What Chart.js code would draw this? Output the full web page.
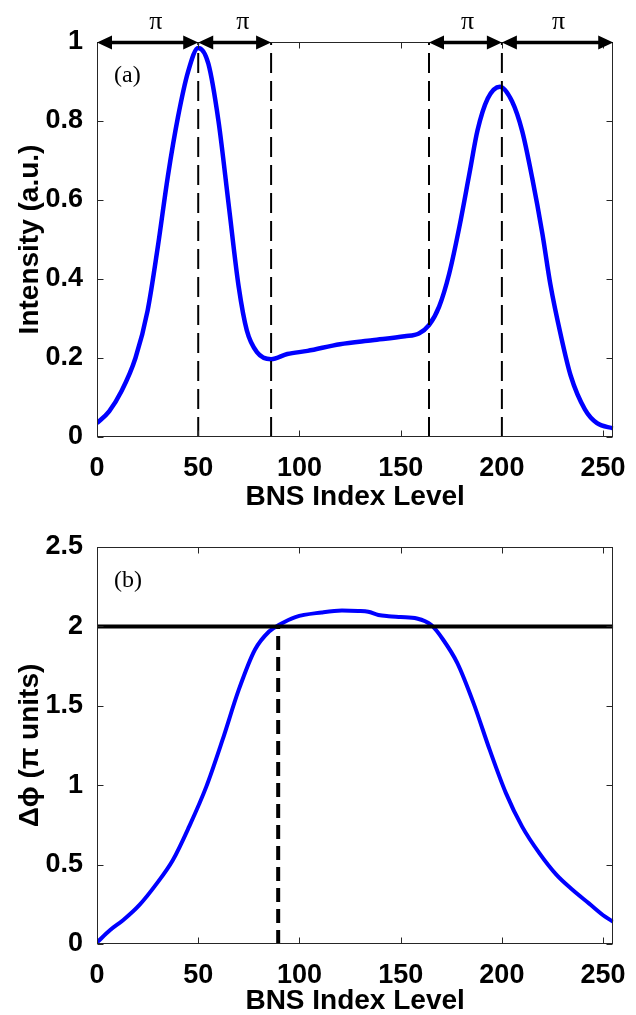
<!DOCTYPE html>
<html lang="en">
<head>
<meta charset="UTF-8" />
<title>BNS Index Level</title>
<script src="https://cdn.jsdelivr.net/npm/chart.js"></script>
<style>
  body { margin: 0; background: #fff; }
  .wrap { position: relative; width: 636px; height: 1015px; overflow: hidden; }
  canvas { position: absolute; left: 0; }
  #chartIntensity { top: 0; }
  #chartPhase { top: 495px; }
</style>
</head>
<body>
<div class="wrap">
  <canvas id="chartIntensity" width="636" height="520"></canvas>
  <canvas id="chartPhase" width="636" height="520"></canvas>
</div>
<script>
  // (a) intensity vs BNS index level
  const bnsLevelA = [0, 6, 12, 19, 25, 30, 35, 40, 45, 50, 55, 60, 65, 70, 74, 79, 86, 94, 104, 120, 136,
                     152, 159, 164, 169, 174, 179, 184, 188, 193, 199, 205, 210, 215, 220, 224, 229, 234, 241, 247, 255];
  const intensityA = [0.035, 0.065, 0.115, 0.2, 0.32, 0.48, 0.66, 0.81, 0.925, 0.985, 0.945, 0.8, 0.59, 0.38,
                      0.27, 0.215, 0.197, 0.21, 0.218, 0.235, 0.245, 0.255, 0.262, 0.283, 0.33, 0.414, 0.532, 0.668,
                      0.777, 0.857, 0.887, 0.85, 0.775, 0.655, 0.515, 0.385, 0.26, 0.155, 0.07, 0.035, 0.022];
  const dashedLevelsA = [50, 86, 164, 200];
  const arrowSpansA = [[0, 50], [50, 86], [164, 200], [200, 255]];
  const piLabelLevels = [29, 72, 183, 228];

  // (b) phase shift vs BNS index level
  const bnsLevelB = [0, 6.5, 13, 21, 29, 37.5, 45.5, 54, 62, 70, 78, 85, 90, 98, 111, 121, 129, 134, 139, 144, 150, 158,
                     165, 171, 178, 186, 194, 202, 210, 218.5, 227, 235, 243, 251, 255];
  const phaseB = [0.01, 0.088, 0.151, 0.246, 0.372, 0.529, 0.739, 0.991, 1.285, 1.6, 1.853, 1.968, 2.01, 2.059,
                  2.088, 2.1, 2.097, 2.092, 2.072, 2.064, 2.059, 2.05, 2.01, 1.916, 1.769, 1.517, 1.222, 0.95, 0.739,
                  0.572, 0.435, 0.34, 0.256, 0.172, 0.14];
  const twoPiLevel = 2;
  const crossingLevel = 89.5;

  const xTicks = [0, 50, 100, 150, 200, 250];
  const intensityTicks = [0, 0.2, 0.4, 0.6, 0.8, 1];
  const phaseTicks = [0, 0.5, 1, 1.5, 2, 2.5];

  const sansBold = (size) => ({ family: "'Liberation Sans', Arial, sans-serif", size: size, weight: 'bold', lineHeight: 1 });

  // axes box, inward ticks, arrows and text marks (matlab look)
  const matlabAxes = {
    id: 'matlabAxes',
    afterDraw(chart, args, opts) {
      const { ctx, chartArea: a, scales: { x, y } } = chart;
      ctx.save();
      const L = Math.round(a.left) + 0.5, R = Math.round(a.right) - 0.5;
      const T = Math.round(a.top) + 0.5, B = Math.round(a.bottom) - 0.5;
      ctx.strokeStyle = '#262626';
      ctx.lineWidth = 1;
      ctx.strokeRect(L, T, R - L, B - T);
      ctx.beginPath();
      x.ticks.forEach(t => {
        const px = Math.round(x.getPixelForValue(t.value)) + 0.5;
        ctx.moveTo(px, B); ctx.lineTo(px, B - 6);
        ctx.moveTo(px, T); ctx.lineTo(px, T + 6);
      });
      y.ticks.forEach(t => {
        const py = Math.round(y.getPixelForValue(t.value)) + 0.5;
        ctx.moveTo(L, py); ctx.lineTo(L + 6, py);
        ctx.moveTo(R, py); ctx.lineTo(R - 6, py);
      });
      ctx.stroke();

      // double arrows along the top edge
      ctx.strokeStyle = '#000';
      ctx.fillStyle = '#000';
      ctx.lineWidth = 3.5;
      const head = 15, half = 7;
      (opts.arrows || []).forEach(([v0, v1]) => {
        const p0 = x.getPixelForValue(v0), p1 = x.getPixelForValue(v1), py = a.top + 0.5;
        ctx.beginPath();
        ctx.moveTo(p0 + head - 2, py); ctx.lineTo(p1 - head + 2, py);
        ctx.stroke();
        ctx.beginPath();
        ctx.moveTo(p0, py); ctx.lineTo(p0 + head, py - half); ctx.lineTo(p0 + head, py + half); ctx.closePath();
        ctx.moveTo(p1, py); ctx.lineTo(p1 - head, py - half); ctx.lineTo(p1 - head, py + half); ctx.closePath();
        ctx.fill();
      });

      ctx.textAlign = 'center';
      ctx.textBaseline = 'middle';
      ctx.font = "26px 'Liberation Serif', 'Times New Roman', serif";
      (opts.piLevels || []).forEach(v => {
        ctx.fillText('π', x.getPixelForValue(v), a.top - 20);
      });

      if (opts.panel) {
        ctx.textAlign = 'left';
        ctx.font = "24px 'Liberation Serif', 'Times New Roman', serif";
        ctx.fillText(opts.panel, a.left + 17, a.top + 34);
      }
      ctx.restore();
    }
  };

  function axesOptions(yTicks, yMax, yTitle, areaBottom, xTitlePad) {
    return {
      x: {
        type: 'linear', min: 0, max: 255, bounds: 'data',
        grid: { display: false }, border: { display: false },
        afterBuildTicks: s => { s.ticks = xTicks.map(v => ({ value: v })); },
        afterFit: s => { s.height = 520 - areaBottom; },
        ticks: { color: '#000', font: sansBold(27), padding: 10, maxRotation: 0, autoSkip: false, callback: v => String(v) },
        title: { display: true, text: 'BNS Index Level', color: '#000', font: sansBold(28), padding: { top: 0, bottom: xTitlePad } }
      },
      y: {
        type: 'linear', min: 0, max: yMax, bounds: 'data',
        grid: { display: false }, border: { display: false },
        afterBuildTicks: s => { s.ticks = yTicks.map(v => ({ value: v })); },
        afterFit: s => { s.width = 97; },
        ticks: { color: '#000', font: sansBold(27), padding: 6, autoSkip: false, callback: v => String(v) },
        title: { display: true, text: yTitle, color: '#000', font: sansBold(28), padding: { top: 16, bottom: 0 } }
      }
    };
  }

  const toPoints = (xs, ys) => xs.map((v, i) => ({ x: v, y: ys[i] }));
  const noAnim = { animation: false, responsive: false, devicePixelRatio: 1, events: [] };

  // Painel (a)
  new Chart(document.getElementById('chartIntensity'), {
    type: 'line',
    data: {
      datasets: [
        ...dashedLevelsA.map(v => ({
          data: [{ x: v, y: 0 }, { x: v, y: 1 }],
          borderColor: '#000', borderWidth: 2, borderDash: [20, 8], pointRadius: 0
        })),
        {
          data: toPoints(bnsLevelA, intensityA),
          borderColor: '#0000ff', borderWidth: 4.5, pointRadius: 0, cubicInterpolationMode: 'monotone'
        }
      ]
    },
    options: {
      ...noAnim,
      layout: { padding: { top: 42, right: 19, left: 0, bottom: 0 } },
      plugins: {
        legend: { display: false }, tooltip: { enabled: false },
        matlabAxes: { arrows: arrowSpansA, piLevels: piLabelLevels, panel: '(a)' }
      },
      scales: axesOptions(intensityTicks, 1, 'Intensity (a.u.)', 437, 9)
    },
    plugins: [matlabAxes]
  });

  // Painel (b)
  new Chart(document.getElementById('chartPhase'), {
    type: 'line',
    data: {
      datasets: [
        {
          data: [{ x: crossingLevel, y: 0 }, { x: crossingLevel, y: twoPiLevel }],
          borderColor: '#000', borderWidth: 4, borderDash: [14, 7], pointRadius: 0
        },
        {
          data: [{ x: 0, y: twoPiLevel }, { x: 255, y: twoPiLevel }],
          borderColor: '#000', borderWidth: 4, pointRadius: 0
        },
        {
          data: toPoints(bnsLevelB, phaseB),
          borderColor: '#0000ff', borderWidth: 4, pointRadius: 0, cubicInterpolationMode: 'monotone'
        }
      ]
    },
    options: {
      ...noAnim,
      layout: { padding: { top: 52, right: 19, left: 0, bottom: 0 } },
      plugins: {
        legend: { display: false }, tooltip: { enabled: false },
        matlabAxes: { panel: '(b)' }
      },
      scales: axesOptions(phaseTicks, 2.5, 'Δϕ (π units)', 449, 0)
    },
    plugins: [matlabAxes]
  });
</script>
</body>
</html>
